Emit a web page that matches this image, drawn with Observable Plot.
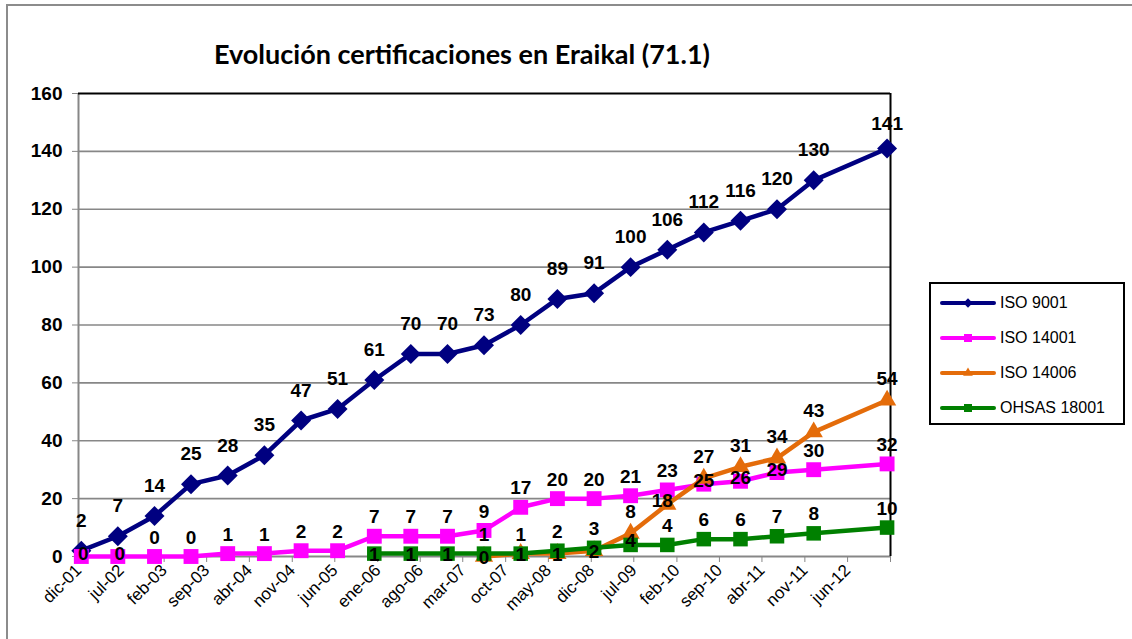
<!DOCTYPE html>
<html>
<head>
<meta charset="utf-8">
<script src="https://cdn.jsdelivr.net/npm/d3@7"></script>
<script src="https://cdn.jsdelivr.net/npm/@observablehq/plot@0.6"></script>
<style>
  html, body { margin: 0; padding: 0; background: #fff; }
  body { width: 1132px; height: 639px; overflow: hidden; position: relative; font-family: "Liberation Sans", Arial, sans-serif; }
  #frame { position: absolute; left: 6px; top: 4px; width: 1300px; height: 800px; border: 2px solid #8c8c8c; box-sizing: border-box; }
  #title { position: absolute; left: 0; top: 0; width: 924px; height: 75px; text-align: center; line-height: 108px;
           font-family: Lato, "Open Sans", sans-serif; font-weight: bold; font-size: 27px; color: #000; }
  #chart { position: absolute; left: 0; top: 75px; }
  #legend { position: absolute; left: 929px; top: 282px; width: 196px; height: 143px; border: 2px solid #000; box-sizing: border-box; background: #fff; }
  .item { position: absolute; left: 9px; height: 20px; display: flex; align-items: center; font-size: 16px; color: #000; }
  .item svg { margin-right: 4px; }
</style>
</head>
<body>
<div id="frame"></div>
<div id="title">Evolución certificaciones en Eraikal (71.1)</div>
<div id="chart"></div>
<div id="legend"></div>
<script>
// ---- data ----
const dates = ["2001-12-15","2002-06-15","2002-12-15","2003-06-15","2003-12-15","2004-06-15","2004-12-15","2005-06-15","2005-12-15","2006-06-15","2006-12-15","2007-06-15","2007-12-15","2008-06-15","2008-12-15","2009-06-15","2009-12-15","2010-06-15","2010-12-15","2011-06-15","2011-12-15","2012-12-15"];
const iso9001  = [2,7,14,25,28,35,47,51,61,70,70,73,80,89,91,100,106,112,116,120,130,141];
const iso14001 = [0,0,0,0,1,1,2,2,7,7,7,9,17,20,20,21,23,25,26,29,30,32];
const iso14006 = [null,null,null,null,null,null,null,null,null,null,null,0,1,1,2,8,18,27,31,34,43,54];
const ohsas18001 = [null,null,null,null,null,null,null,null,1,1,1,1,1,2,3,4,4,6,6,7,8,10];
const seriesNames = ["ISO 9001","ISO 14001","ISO 14006","OHSAS 18001"];
const tickLabels = ["dic-01","jul-02","feb-03","sep-03","abr-04","nov-04","jun-05","ene-06","ago-06","mar-07","oct-07","may-08","dic-08","jul-09","feb-10","sep-10","abr-11","nov-11","jun-12"];
const yTicks = [0,20,40,60,80,100,120,140,160];

// ---- styles ----
const styles = {
  "ISO 9001":   {color:"#000080", symbol:"diamond2", r:9.0, lr:4.2},
  "ISO 14001":  {color:"#FF00FF", symbol:"square",   r:8.4, lr:4.5},
  "ISO 14006":  {color:"#E46C0A", symbol:"triangle", r:6.8, lr:3.6},
  "OHSAS 18001":{color:"#008000", symbol:"square",   r:8.2, lr:4.5}
};
const valuesBy = {"ISO 9001":iso9001, "ISO 14001":iso14001, "ISO 14006":iso14006, "OHSAS 18001":ohsas18001};

const rows = [];
for (const s of seriesNames) {
  valuesBy[s].forEach((v, i) => { if (v != null) rows.push({series:s, idx:i, date:new Date(dates[i] + "T00:00:00Z"), value:v}); });
}

// label placement rules (simple collision avoidance, like the Excel layout)
function labelOffset(d) {
  const i = d.idx;
  const blu = iso9001[i], mag = iso14001[i], ora = iso14006[i];
  switch (d.series) {
    case "ISO 9001": return [0, d.value > 135 ? -25 : -30];
    case "ISO 14001":
      if (blu - d.value <= 8) return [2, -3];
      if (ora != null && ora >= d.value && ora - d.value <= 6) return [0, -3];
      return [0, -19];
    case "ISO 14006":
      if (d.value < 3) return [0, 1];
      if (mag != null && mag > d.value && mag - d.value <= 8) return [-5, -4];
      return [0, -21];
    case "OHSAS 18001":
      if (mag != null && mag - d.value <= 6) return [0, 1];
      if (ora != null && ora > d.value && ora - d.value <= 6) return [0, -4];
      return [0, -19];
  }
  return [0, -19];
}

const tickDates = d3.range(tickLabels.length + 1).map(i => new Date(Date.UTC(2001, 11 + 7 * i, 1)));
const fmt = d => { const i = tickDates.findIndex(t => +t === +d); return i >= 0 && i < tickLabels.length ? tickLabels[i] : ""; };

const xDomain = [tickDates[0], tickDates[tickDates.length - 1]];
const marks = [
  Plot.gridY(yTicks.filter(t => t > 0 && t < 160), {stroke:"#878787", strokeOpacity:1, strokeWidth:1.6}),
  Plot.ruleX([xDomain[0]], {stroke:"#878787", strokeWidth:2}),
  Plot.ruleY([0], {stroke:"#878787", strokeWidth:2}),
  Plot.ruleY([160], {stroke:"#000", strokeWidth:2}),
  Plot.ruleX([xDomain[1]], {stroke:"#000", strokeWidth:2}),
  Plot.axisY(yTicks, {label:null, tickSize:6, tickPadding:10, stroke:"#878787", fill:"#000", fontSize:19, fontWeight:"bold"}),
  Plot.axisX(tickDates, {label:null, tickSize:6, tickPadding:5, tickRotate:-45, tickFormat:fmt, stroke:"#878787", fill:"#000", fontSize:17})
];
for (const s of seriesNames) {
  const st = styles[s];
  const data = rows.filter(d => d.series === s);
  marks.push(Plot.line(data, {x:"date", y:"value", stroke:st.color, strokeWidth:4.5}));
  marks.push(Plot.dot(data, {x:"date", y:"value", symbol:() => st.symbol, fill:st.color, stroke:"none", r:st.r}));
}
// group labels by offset so each group is one text mark
const groups = d3.group(rows, d => labelOffset(d).join(","));
for (const [key, data] of groups) {
  const [dx, dy] = key.split(",").map(Number);
  marks.push(Plot.text(data, {x:"date", y:"value", text:d => String(d.value), dx, dy, fill:"#000", fontSize:19, fontWeight:"bold"}));
}

const chart = Plot.plot({
  width:1132, height:564,
  marginLeft:78, marginRight:242, marginTop:18, marginBottom:83,
  style:{fontFamily:"'Liberation Sans', Arial, sans-serif", background:"transparent", overflow:"visible", color:"#000"},
  x:{type:"utc", domain:xDomain, axis:null, label:null},
  y:{domain:[0,160], axis:null, label:null},
  symbol:{type:"identity"},
  marks
});
document.getElementById("chart").appendChild(chart);

// ---- legend ----
const legend = document.getElementById("legend");
const legendTops = [9, 44, 79, 114];
seriesNames.forEach((s, i) => {
  const st = styles[s];
  const item = document.createElement("div");
  item.className = "item";
  item.style.top = legendTops[i] + "px";
  const sym = d3.symbol().type({diamond2:d3.symbolDiamond2, square:d3.symbolSquare, triangle:d3.symbolTriangle}[st.symbol]).size(Math.PI * st.lr * st.lr)();
  item.innerHTML = `<svg width="56" height="20"><line x1="2" x2="54" y1="10" y2="10" stroke="${st.color}" stroke-width="4" stroke-linecap="round"/><path transform="translate(28,10)" d="${sym}" fill="${st.color}"/></svg><span>${s}</span>`;
  legend.appendChild(item);
});
</script>
</body>
</html>
